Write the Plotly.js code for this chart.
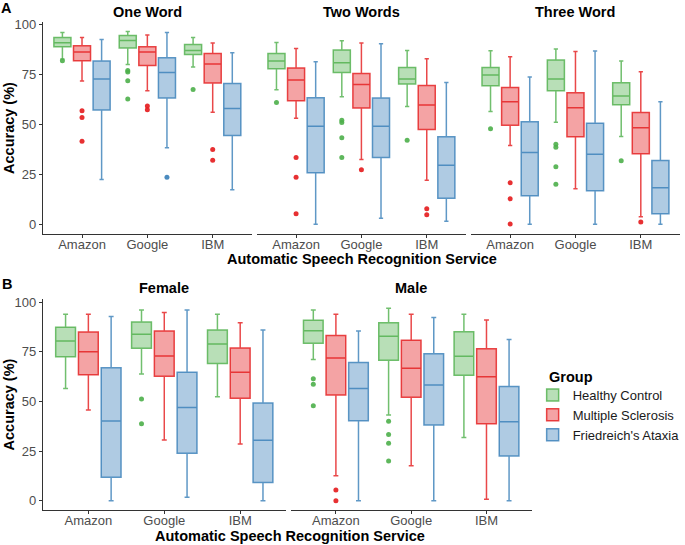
<!DOCTYPE html>
<html>
<head>
<meta charset="utf-8">
<script src="https://cdn.plot.ly/plotly-3.0.1.min.js"></script>
<style>html,body{margin:0;padding:0;background:#fff;}#chart{width:685px;height:545px;}</style>
</head>
<body>
<div id="chart"></div>
<script>
// ---------- data ----------
const services = ['Amazon', 'Google', 'IBM'];
const groups = ['Healthy Control', 'Multiple Sclerosis', "Friedreich's Ataxia"];
const panelTitles = ['One Word', 'Two Words', 'Three Word', 'Female', 'Male'];

// stats per panel & group: lower whisker, q1, median, q3, upper whisker, outliers (per service)
const oneWordHC = {lo: [82.5, 79.8, 78.5], q1: [88.7, 88, 84.8], med: [90.7, 91.8, 86.8], q3: [93.2, 94.3, 89.8], hi: [95.7, 96.2, 93.3], out: [[81.7], [76.8, 76, 71.7, 62.5], [67.3]]};
const oneWordMS = {lo: [71.5, 66.7, 56], q1: [81.7, 79.3, 70.5], med: [86, 86, 80], q3: [89.2, 88.7, 85.3], hi: [93.2, 94.5, 90.5], out: [[56.7, 53.3, 41.5], [59, 57.2], [37.3, 32]]};
const oneWordFA = {lo: [22.3, 38.2, 17.3], q1: [57, 63, 44.3], med: [72.5, 75.8, 57.8], q3: [81.5, 83.2, 70.3], hi: [92.3, 95.7, 85.7], out: [[], [23.5], []]};

const twoWordsHC = {lo: [67.2, 63.7, 58.8], q1: [77.7, 75.8, 70], med: [81.5, 80.7, 72.5], q3: [85.3, 87, 78.3], hi: [90.8, 91.7, 86.8], out: [[60.8], [52, 50.8, 43.2, 33.3], [42]]};
const twoWordsMS = {lo: [53, 32.3, 22], q1: [61.7, 58, 47.3], med: [72, 69.8, 59.5], q3: [78, 75.3, 69.3], hi: [87.8, 90.5, 82.7], out: [[33.3, 23.5, 5.3], [27.2], [7.7, 4.8]]};
const twoWordsFA = {lo: [0, 3, 1.5], q1: [25.7, 33.3, 13], med: [49, 49, 29.5], q3: [63.2, 63, 43.7], hi: [81.2, 90.2, 70.8], out: [[], [], []]};

const threeWordHC = {lo: [56.3, 51, 43.8], q1: [69.2, 66.7, 59.7], med: [74.5, 72.5, 64], q3: [78.3, 82, 70.7], hi: [86.7, 87.5, 81.5], out: [[47.7], [40, 38.5, 28.7, 20], [31.7]]};
const threeWordMS = {lo: [39.3, 17.7, 3.8], q1: [49.5, 43.7, 35.2], med: [61.2, 58.2, 48.2], q3: [68.3, 65.7, 55.8], hi: [83.7, 86.3, 76.2], out: [[20.8, 12.7, 0.2], [], [1.2]]};
const threeWordFA = {lo: [0, 0, 0], q1: [14.2, 16.8, 5.3], med: [35.8, 35, 18.3], q3: [51.2, 50.5, 31.8], hi: [73.5, 86.5, 61.2], out: [[], [], []]};

const femaleHC = {lo: [56.6, 63.9, 52.4], q1: [72.6, 76.8, 69.2], med: [80.5, 83.9, 79], q3: [87.4, 90, 86], hi: [94, 96.1, 94], out: [[], [51.3, 38.8], []]};
const femaleMS = {lo: [45.7, 30.6, 28.6], q1: [63.5, 62.7, 51.6], med: [75, 72.9, 64.7], q3: [85, 85.5, 77], hi: [94, 94.8, 89.7], out: [[], [], []]};
const femaleFA = {lo: [0, 1.7, 0], q1: [11.8, 23.9, 9.2], med: [40.2, 46.9, 30.4], q3: [67, 64.7, 49.2], hi: [92.8, 96.1, 86], out: [[], [], []]};

const maleHC = {lo: [71.1, 43.2, 31.8], q1: [79.3, 70.8, 63.2], med: [85.7, 82.9, 72.8], q3: [91, 89.7, 85.2], hi: [96.1, 97, 94], out: [[61.5, 58.7, 47.9], [40, 33.3, 28.9, 20], []]};
const maleMS = {lo: [12.6, 17.6, 0.7], q1: [53.3, 52.1, 38.8], med: [71.9, 66.7, 62.5], q3: [83.2, 80.8, 76.6], hi: [94, 94, 91.1], out: [[5.4, 0], [], []]};
const maleFA = {lo: [0, 0, 0], q1: [40.3, 38.2, 22.5], med: [56.5, 58.3, 39.8], q3: [69.6, 74.1, 57.5], hi: [85.5, 92.3, 81.2], out: [[], [], []]};

const yTicks = [0, 25, 50, 75, 100];

// ---------- styling ----------
const W = 685, H = 545;
const FONT = 'Liberation Sans, Arial, sans-serif';
const rgb = [[77, 175, 74], [228, 26, 28], [55, 126, 184]];
const rgba = (c, a) => `rgba(${c[0]},${c[1]},${c[2]},${a})`;

const panels = [
  {stats: [oneWordHC, oneWordMS, oneWordFA], px: [43, 253], py: [22, 234], yr: [-4.85, 101.0]},
  {stats: [twoWordsHC, twoWordsMS, twoWordsFA], px: [258, 468], py: [22, 234], yr: [-4.85, 101.0]},
  {stats: [threeWordHC, threeWordMS, threeWordFA], px: [473, 683], py: [22, 234], yr: [-4.85, 101.0]},
  {stats: [femaleHC, femaleMS, femaleFA], px: [43, 287], py: [298.6, 510.3], yr: [-4.85, 101.85]},
  {stats: [maleHC, maleMS, maleFA], px: [292, 534], py: [298.6, 510.3], yr: [-4.85, 101.85]}
];

const traces = [];
const layout = {
  width: W, height: H,
  margin: {l: 0, r: 0, t: 0, b: 0},
  paper_bgcolor: '#fff', plot_bgcolor: '#fff',
  font: {family: FONT, size: 13, color: '#4d4d4d'},
  boxmode: 'group', boxgap: 0.1, boxgroupgap: 0.13,
  showlegend: true,
  legend: {
    x: 535 / W, y: 1 - 415 / H, xanchor: 'left', yanchor: 'middle',
    font: {family: FONT, size: 13, color: '#1a1a1a'},
    tracegroupgap: 0, bgcolor: 'rgba(0,0,0,0)'
  },
  annotations: [],
  shapes: []
};

panels.forEach((p, pi) => {
  const ax = pi === 0 ? '' : String(pi + 1);
  const firstInRow = (pi === 0 || pi === 3);
  layout['xaxis' + ax] = {
    domain: [p.px[0] / W, p.px[1] / W], anchor: 'y' + ax,
    type: 'category', categoryorder: 'array', categoryarray: services,
    range: [-0.6, 2.6], fixedrange: true,
    showline: true, linecolor: '#333', linewidth: 1,
    ticks: 'outside', ticklen: 3, tickcolor: '#333', tickwidth: 1,
    ticklabelstandoff: -5,
    showgrid: false, zeroline: false,
    tickfont: {family: FONT, size: 13, color: '#4d4d4d'}
  };
  layout['yaxis' + ax] = {
    domain: [1 - p.py[1] / H, 1 - p.py[0] / H], anchor: 'x' + ax,
    range: p.yr, fixedrange: true,
    tickvals: yTicks,
    showticklabels: firstInRow, showline: firstInRow,
    ticks: firstInRow ? 'outside' : '', ticklen: 3, tickcolor: '#333', tickwidth: 1,
    linecolor: '#333', linewidth: 1,
    showgrid: false, zeroline: false,
    tickfont: {family: FONT, size: 13, color: '#4d4d4d'}
  };
  // facet title
  layout.annotations.push({
    text: '<b>' + panelTitles[pi] + '</b>', xref: 'paper', yref: 'paper',
    x: (p.px[0] + p.px[1]) / 2 / W, y: 1 - (pi < 3 ? 12 : 288) / H,
    xanchor: 'center', yanchor: 'middle', showarrow: false,
    font: {family: FONT, size: 14.5, color: '#000'}
  });

  p.stats.forEach((s, gi) => {
    traces.push({
      type: 'box', name: groups[gi], legendgroup: groups[gi], showlegend: pi === 0,
      xaxis: 'x' + ax, yaxis: 'y' + ax,
      offsetgroup: 'g' + gi, alignmentgroup: 'all',
      x: services,
      // outlier samples per box; an empty box row holds a single null (no point drawn)
      y: s.out.map(a => (a.length ? a : [null])),
      q1: s.q1, median: s.med, q3: s.q3, lowerfence: s.lo, upperfence: s.hi,
      boxpoints: 'outliers', pointpos: 0, jitter: 0,
      marker: {color: rgba(rgb[gi], 0.9), size: 5, line: {width: 0}},
      fillcolor: rgba(rgb[gi], 0.4),
      line: {color: rgba(rgb[gi], 0.8), width: 1.5},
      whiskerwidth: 0.25,
      hoverinfo: 'skip'
    });
  });
});

// axis titles, legend heading and panel letters
const bold = (t, x, y, size, extra) => Object.assign({
  text: '<b>' + t + '</b>', xref: 'paper', yref: 'paper', x: x / W, y: 1 - y / H,
  xanchor: 'center', yanchor: 'middle', showarrow: false,
  font: {family: FONT, size: size, color: '#000'}
}, extra || {});
layout.annotations.push(bold('Automatic Speech Recognition Service', 364, 259, 14.5));
layout.annotations.push(bold('Automatic Speech Recognition Service', 291, 536, 14.5));
layout.annotations.push(bold('Accuracy (%)', 9, 128, 14.5, {textangle: -90}));
layout.annotations.push(bold('Accuracy (%)', 9, 404.5, 14.5, {textangle: -90}));
layout.annotations.push(bold('Group', 549, 377, 14.5, {xanchor: 'left'}));
layout.annotations.push(bold('A', 7, 8, 14.5));
layout.annotations.push(bold('B', 7, 284, 14.5));

Plotly.newPlot('chart', traces, layout, {staticPlot: true, displayModeBar: false});
</script>
</body>
</html>
